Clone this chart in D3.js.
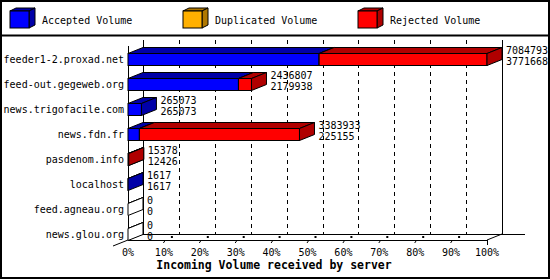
<!DOCTYPE html>
<html lang="en">
<head>
    <meta charset="UTF-8">
    <title>Incoming Volume received by server</title>
    <script src="https://d3js.org/d3.v7.min.js"></script>
    <style>
        body { margin: 0; background: #fff; }
        text { font-family: "DejaVu Sans Mono", monospace; font-size: 10px; fill: #000; }
        .title { font-weight: bold; font-size: 11.5px; }
    </style>
</head>
<body>
    <svg width="550" height="280"></svg>

    <script>
        const servers = ["feeder1-2.proxad.net", "feed-out.gegeweb.org", "news.trigofacile.com", "news.fdn.fr",
                         "pasdenom.info", "localhost", "feed.agneau.org", "news.glou.org"];
        const accepted   = [3771668, 2179938, 265073, 225155, 12426, 1617, 0, 0];
        const duplicated = [0, 0, 0, 0, 0, 0, 0, 0];
        const rejected   = [3313125, 256869, 0, 3158778, 2952, 0, 0, 0];
        const seriesNames = ["Accepted Volume", "Duplicated Volume", "Rejected Volume"];
        const percentTicks = [0, 10, 20, 30, 40, 50, 60, 70, 80, 90, 100];

        const colors = [
            {front: "#0000ff", dark: "#0000a8"},
            {front: "#ffb000", dark: "#b07800"},
            {front: "#ff0000", dark: "#b00000"}
        ];

        const svg = d3.select("svg");
        const dx = 15, dy = -6;            // depth of the 3d effect
        const left = 128, right = 487, floorY = 240, wallTop = 40;

        const totals = servers.map((s, i) => accepted[i] + duplicated[i] + rejected[i]);
        const x = d3.scaleLinear().domain([0, d3.max(totals)]).range([left, right]);
        const xp = d3.scaleLinear().domain([0, 100]).range([left, right]);
        const y = d3.scaleBand().domain(servers).range([46.5, 246.5]);
        const barH = 12;

        // frame
        svg.append("rect").attr("x", 1).attr("y", 1).attr("width", 548).attr("height", 277)
            .attr("fill", "none").attr("stroke", "#000").attr("stroke-width", 2);
        svg.append("line").attr("x1", 0).attr("x2", 550).attr("y1", 35.5).attr("y2", 35.5)
            .attr("stroke", "#000").attr("stroke-width", 2);

        // legend
        const legendX = [10, 183, 358];
        seriesNames.forEach((name, i) => {
            const lx = legendX[i], ly = 11, w = 19, h = 17, ddx = 6, ddy = -3;
            const lg = svg.append("g").attr("stroke", "#000");
            lg.append("polygon")
                .attr("points", [[lx, ly], [lx + ddx, ly + ddy], [lx + w + ddx, ly + ddy], [lx + w, ly]].join(" "))
                .attr("fill", colors[i].dark);
            lg.append("polygon")
                .attr("points", [[lx + w, ly], [lx + w + ddx, ly + ddy], [lx + w + ddx, ly + h + ddy], [lx + w, ly + h]].join(" "))
                .attr("fill", colors[i].dark);
            lg.append("rect").attr("x", lx).attr("y", ly).attr("width", w).attr("height", h)
                .attr("fill", colors[i].front);
            svg.append("text").attr("x", lx + 32).attr("y", 20).attr("dy", "0.35em").text(name);
        });

        // back wall + grid
        const wall = svg.append("g").attr("stroke", "#000").attr("fill", "none");
        wall.append("line").attr("x1", left + dx + 0.5).attr("x2", left + dx + 0.5)
            .attr("y1", wallTop).attr("y2", floorY + dy);
        wall.append("line").attr("x1", right + dx + 0.5).attr("x2", right + dx + 0.5)
            .attr("y1", wallTop).attr("y2", floorY + dy);
        wall.selectAll(".grid").data(percentTicks.slice(1, -1)).enter().append("line")
            .attr("x1", d => Math.round(xp(d) + dx) + 0.5).attr("x2", d => Math.round(xp(d) + dx) + 0.5)
            .attr("y1", wallTop).attr("y2", floorY + dy)
            .attr("stroke-dasharray", "4,4");

        // floor
        wall.append("line").attr("x1", left + dx).attr("x2", 525).attr("y1", floorY + dy + 0.5).attr("y2", floorY + dy + 0.5);
        wall.append("line").attr("x1", left).attr("x2", right).attr("y1", floorY + 0.5).attr("y2", floorY + 0.5);
        wall.append("line").attr("x1", left - dx).attr("y1", floorY - dy).attr("x2", left + dx).attr("y2", floorY + dy);
        wall.append("line").attr("x1", right).attr("y1", floorY).attr("x2", right + dx).attr("y2", floorY + dy);
        wall.append("line").attr("x1", left + 0.5).attr("x2", left + 0.5).attr("y1", 46).attr("y2", floorY);

        // ticks
        percentTicks.slice(1, -1).forEach(p => {
            const tx = xp(p);
            wall.append("line").attr("x1", tx - 0.5).attr("y1", floorY + 3).attr("x2", tx + 1.5).attr("y2", floorY);
            wall.append("rect").attr("x", tx + 7).attr("y", floorY - 4).attr("width", 2).attr("height", 2)
                .attr("fill", "#000").attr("stroke", "none");
        });
        wall.append("line").attr("x1", right + 0.5).attr("x2", right + 0.5).attr("y1", floorY).attr("y2", floorY + 5);
        svg.selectAll(".tick-label").data(percentTicks).enter().append("text")
            .attr("x", d => xp(d)).attr("y", 252).attr("dy", "0.35em")
            .attr("text-anchor", "middle").text(d => d + "%");

        svg.append("text").attr("class", "title").attr("x", 274).attr("y", 269)
            .attr("text-anchor", "middle").text("Incoming Volume received by server");

        // bars
        function box(g, x0, x1, top, c) {
            g.append("rect").attr("x", x0).attr("y", top).attr("width", x1 - x0).attr("height", barH)
                .attr("fill", c.front);
            g.append("polygon")
                .attr("points", [[x0, top], [x0 + dx, top + dy], [x1 + dx, top + dy], [x1, top]].join(" "))
                .attr("fill", c.dark);
            g.append("polygon")
                .attr("points", [[x1, top], [x1 + dx, top + dy], [x1 + dx, top + barH + dy], [x1, top + barH]].join(" "))
                .attr("fill", c.dark);
        }

        servers.forEach((s, i) => {
            const cy = y(s) + y.bandwidth() / 2;
            const top = Math.round(cy - barH / 2) + 0.5;
            const g = svg.append("g").attr("stroke", "#000");
            const vals = [accepted[i], duplicated[i], rejected[i]];
            let start = 0;
            if (totals[i] === 0) {
                box(g, x(0), x(0), top, {front: "#fff", dark: "#fff"});
            }
            vals.forEach((v, k) => {
                if (v > 0) box(g, x(start), x(start + v), top, colors[k]);
                start += v;
            });

            svg.append("text").attr("x", 124).attr("y", cy).attr("dy", "0.35em")
                .attr("text-anchor", "end").text(s);
            const vx = x(totals[i]) + dx + 4;
            svg.append("text").attr("x", vx).attr("y", cy - 9).attr("dy", "0.35em").text(totals[i]);
            svg.append("text").attr("x", vx).attr("y", cy + 2).attr("dy", "0.35em").text(accepted[i]);
        });
    </script>
</body>
</html>
